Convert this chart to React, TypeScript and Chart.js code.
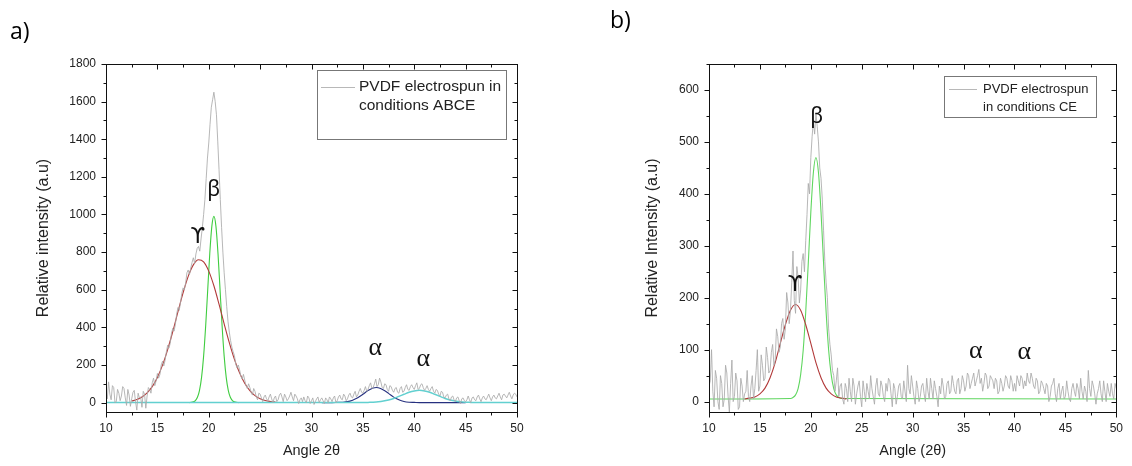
import React, { useEffect, useRef } from "react";
import { Chart, registerables } from "chart.js";
Chart.register(...registerables);

const FONT = "'Liberation Sans', Arial, sans-serif";
Chart.defaults.font.family = FONT;

// ---------- data ----------
const angles = [
  10, 10.25, 10.5, 10.75, 11, 11.25, 11.5, 11.75,
  12, 12.25, 12.5, 12.75, 13, 13.25, 13.5, 13.75,
  14, 14.25, 14.5, 14.75, 15, 15.25, 15.5, 15.75,
  16, 16.25, 16.5, 16.75, 17, 17.25, 17.5, 17.75,
  18, 18.25, 18.5, 18.75, 19, 19.25, 19.5, 19.75,
  20, 20.25, 20.5, 20.75, 21, 21.25, 21.5, 21.75,
  22, 22.25, 22.5, 22.75, 23, 23.25, 23.5, 23.75,
  24, 24.25, 24.5, 24.75, 25, 25.25, 25.5, 25.75,
  26, 26.25, 26.5, 26.75, 27, 27.25, 27.5, 27.75,
  28, 28.25, 28.5, 28.75, 29, 29.25, 29.5, 29.75,
  30, 30.25, 30.5, 30.75, 31, 31.25, 31.5, 31.75,
  32, 32.25, 32.5, 32.75, 33, 33.25, 33.5, 33.75,
  34, 34.25, 34.5, 34.75, 35, 35.25, 35.5, 35.75,
  36, 36.25, 36.5, 36.75, 37, 37.25, 37.5, 37.75,
  38, 38.25, 38.5, 38.75, 39, 39.25, 39.5, 39.75,
  40, 40.25, 40.5, 40.75, 41, 41.25, 41.5, 41.75,
  42, 42.25, 42.5, 42.75, 43, 43.25, 43.5, 43.75,
  44, 44.25, 44.5, 44.75, 45, 45.25, 45.5, 45.75,
  46, 46.25, 46.5, 46.75, 47, 47.25, 47.5, 47.75,
  48, 48.25, 48.5, 48.75, 49, 49.25, 49.5, 49.75,
  50,
];

// a) PVDF electrospun in conditions ABCE, raw pattern on the quarter-degree grid
const rawA = [
  60, 110, 15, 80, 5, 50, 35, 75,
  -15, 40, 20, 65, -40, 25, -25, 45,
  35, 70, 105, 90, 155, 150, 220, 225,
  305, 315, 395, 415, 505, 530, 610, 635,
  705, 715, 770, 790, 830, 870, 1000, 1190,
  1380, 1570, 1650, 1530, 1240, 930, 690, 510,
  375, 295, 250, 185, 175, 125, 120, 75,
  80, 40, 60, 15, 45, 5, 40, 10,
  45, 0, 35, 15, 50, 5, 30, 20,
  55, 10, 35, -5, 25, 30, 0, 25,
  10, -10, 20, 0, 25, -5, 15, 30,
  5, 35, 10, 40, 15, 35, 20, 50,
  25, 60, 40, 75, 50, 85, 70, 105,
  80, 125, 95, 110, 75, 95, 60, 85,
  55, 80, 50, 85, 60, 95, 65, 95,
  70, 105, 75, 100, 65, 90, 60, 85,
  50, 65, 35, 55, 25, 45, 10, 35,
  5, 30, -5, 25, 5, 35, 0, 30,
  10, 40, 5, 35, 15, 45, 10, 40,
  20, 50, 15, 45, 25, 55, 20, 50,
  30,
];
// a) readings half-way between the grid angles
const rawAMid = [
  20, 45, 90, 0, 70, 10, 85, 25,
  70, -20, 55, 5, 50, 30, 60, -30,
  80, 50, 130, 115, 130, 200, 195, 270,
  290, 370, 380, 470, 490, 580, 600, 690,
  680, 745, 740, 820, 805, 930, 1080, 1300,
  1480, 1610, 1600, 1390, 1080, 800, 600, 430,
  330, 270, 205, 200, 140, 150, 90, 100,
  55, 75, 30, 50, 25, 30, 20, 30,
  20, 25, 5, 40, 30, 45, 10, 35,
  30, 45, 20, 15, 5, 10, 35, -5,
  25, 5, 30, 15, 10, 25, 0, 20,
  25, 0, 30, 20, 45, 10, 40, 30,
  45, 30, 60, 55, 65, 60, 90, 75,
  100, 85, 130, 80, 100, 70, 90, 65,
  75, 55, 75, 55, 80, 70, 85, 80,
  90, 70, 95, 80, 75, 70, 75, 60,
  70, 45, 60, 30, 40, 20, 30, 15,
  25, 10, 20, 10, 15, 15, 25, 15,
  30, 20, 25, 20, 30, 25, 30, 25,
  35, 30, 40, 35, 40, 35, 40, 45,
];

// b) PVDF electrospun in conditions CE, raw pattern on the quarter-degree grid
const rawB = [
  30, 100, -10, 45, -15, 35, 5, 55,
  -20, 80, 10, 40, -10, 30, 15, 60,
  0, 50, 25, 100, 30, 70, 45, 85,
  60, 110, 80, 125, 105, 160, 140, 190,
  175, 290, 170, 240, 215, 285, 310, 420,
  470, 540, 555, 500, 430, 330, 230, 140,
  90, 50, 40, 10, 35, -5, 25, 45,
  0, 30, 15, 40, -10, 20, 35, 5,
  25, -5, 45, 10, 30, 0, 20, 40,
  -10, 25, 10, 35, 5, 20, 70, 15,
  30, -5, 25, 10, 35, 0, 20, 45,
  5, 25, -10, 15, 30, 10, 40, 20,
  35, 15, 45, 25, 40, 30, 50, 35,
  55, 40, 62, 45, 35, 50, 30, 45,
  25, 40, 20, 35, 30, 45, 25, 40,
  35, 50, 30, 45, 40, 55, 35, 45,
  25, 40, 20, 35, 15, 30, 10, 35,
  15, 25, 5, 30, 10, 20, 0, 35,
  10, 25, 45, 5, 20, 60, 10, 30,
  -5, 25, 15, 40, 0, 20, 35, 5,
  25,
];
// b) readings half-way between the grid angles
const rawBMid = [
  40, 20, 60, 0, 50, -10, 70, 10,
  35, 0, 55, -15, 45, 0, 20, 10,
  30, 5, 60, 20, 90, 40, 105, 55,
  95, 70, 140, 95, 150, 120, 210, 150,
  230, 195, 260, 190, 270, 250, 360, 400,
  510, 515, 530, 450, 390, 270, 200, 110,
  60, 20, 65, 30, 5, 35, 0, 20,
  45, -5, 30, 10, 40, 0, 20, 50,
  10, 30, 15, 40, 10, 35, 45, 15,
  35, -5, 30, 10, 40, 0, 25, 50,
  10, 40, 0, 30, 15, 45, 5, 25,
  40, 10, 30, 45, 5, 35, 15, 50,
  20, 40, 15, 50, 20, 55, 25, 45,
  30, 50, 35, 20, 55, 25, 50, 40,
  45, 15, 45, 20, 50, 30, 50, 20,
  20, 40, 50, 25, 30, 40, 55, 30,
  45, 15, 40, 25, 35, 0, 30, 45,
  0, 35, 20, 5, 40, 5, 25, 20,
  35, 5, 20, 30, 0, 25, 40, 15,
  15, 40, 0, 20, 35, 10, 15, 35,
];

// a) fitted peaks
const gammaAx = [12.5, 13, 13.5, 14, 14.5, 15, 15.5, 16, 16.5, 17, 17.5, 18, 18.5, 19, 19.5, 20, 20.5, 21, 21.5, 22, 22.5, 23, 23.5, 24, 24.5, 25, 25.5, 26, 26.5];
const gammaAy = [8, 16, 30, 52, 85, 134, 199, 282, 378, 482, 583, 671, 732, 759, 748, 699, 621, 523, 419, 319, 230, 158, 103, 64, 37, 21, 11, 6, 3];

const betaAx = [18.1, 18.3, 18.5, 18.7, 18.9, 19.1, 19.3, 19.5, 19.7, 19.9, 20.1, 20.3, 20.5, 20.7, 20.9, 21.1, 21.3, 21.5, 21.7, 21.9, 22.1, 22.3, 22.5, 22.7, 22.9];
const betaAy = [0, 1, 4, 11, 28, 65, 134, 247, 407, 600, 793, 937, 990, 937, 793, 600, 407, 247, 134, 65, 28, 11, 4, 1, 0];

const alpha1Ax = [31, 31.5, 32, 32.5, 33, 33.5, 34, 34.5, 35, 35.5, 36, 36.3, 36.5, 37, 37.5, 38, 38.5, 39, 39.5, 40, 40.5, 41, 41.5, 42, 42.5, 43, 43.5, 44, 44.5, 45];
const alpha1Ay = [0, 0, 0, 1, 2, 5, 13, 26, 44, 64, 78, 80, 79, 67, 49, 29, 15, 6, 2, 1, 0, 0, 0, 0, 0, 0, 0, 0, 0, 0];

const alpha2Ax = [10, 35, 35.5, 36, 36.5, 37, 37.5, 38, 38.5, 39, 39.5, 40, 40.5, 41, 41.5, 42, 42.5, 43, 43.5, 44, 44.5, 45, 45.5, 46, 50];
const alpha2Ay = [0, 0, 1, 2, 4, 8, 14, 22, 33, 44, 55, 62, 65, 62, 55, 44, 33, 22, 14, 8, 4, 2, 1, 0, 0];

// b) fitted peaks
const gammaBx = [13.5, 14, 14.5, 15, 15.5, 16, 16.5, 17, 17.5, 18, 18.5, 19, 19.5, 20, 20.5, 21, 21.5, 22, 22.5, 23, 23.5];
const gammaBy = [5, 7, 9, 15, 26, 46, 75, 112, 148, 176, 187, 176, 148, 112, 75, 46, 26, 15, 9, 7, 5];

const betaBx = [10, 18, 18.25, 18.5, 18.75, 19, 19.25, 19.5, 19.75, 20, 20.25, 20.5, 20.75, 21, 21.25, 21.5, 21.75, 22, 22.25, 22.5, 22.75, 23, 50];
const betaBy = [5, 6, 8, 13, 25, 52, 99, 173, 267, 365, 441, 470, 441, 365, 267, 173, 99, 52, 25, 13, 8, 6, 5];

// axes
const xTickValues = [10, 15, 20, 25, 30, 35, 40, 45, 50];
const yTickValuesA = [0, 200, 400, 600, 800, 1000, 1200, 1400, 1600, 1800];
const yTickValuesB = [0, 100, 200, 300, 400, 500, 600];

const legendA = ["PVDF electrospun in", "conditions ABCE"];
const legendB = ["PVDF electrospun", "in conditions CE"];

// peak annotations (angle, intensity)
const peaksA = [
  { text: "ϒ", x: 18.93, y: 876 },
  { text: "β", x: 20.49, y: 1132 },
  { text: "α", x: 36.2, y: 288 },
  { text: "α", x: 40.87, y: 230 },
];
const peaksB = [
  { text: "ϒ", x: 18.45, y: 224 },
  { text: "β", x: 20.58, y: 548 },
  { text: "α", x: 36.2, y: 97 },
  { text: "α", x: 40.97, y: 95 },
];

// ---------- helpers ----------
const pts = (xs: number[], ys: number[]) => xs.map((x, i) => ({ x, y: ys[i] }));
const rawPts = (grid: number[], main: number[], mid: number[]) => {
  const out: { x: number; y: number }[] = [];
  for (let i = 0; i < grid.length; i++) {
    out.push({ x: grid[i], y: main[i] });
    if (i < mid.length) out.push({ x: (grid[i] + grid[i + 1]) / 2, y: mid[i] });
  }
  return out;
};
const isMult = (v: number, m: number) => Math.abs(v / m - Math.round(v / m)) < 1e-6;

const decor = {
  id: "decor",
  afterDraw(chart: any, _args: any, o: any) {
    const { ctx, chartArea: a } = chart;
    const xs = chart.scales.x;
    const ys = chart.scales.y;
    ctx.save();
    const L = Math.round(a.left) + 0.5;
    const R = Math.round(a.right) + 0.5;
    const T = Math.round(a.top) + 0.5;
    const B = Math.round(a.bottom) + 0.5;
    ctx.strokeStyle = "#111";
    ctx.lineWidth = 1;
    ctx.strokeRect(L, T, R - L, B - T);
    ctx.beginPath();
    for (let v = xs.min; v <= xs.max + 1e-6; v += o.xMinor) {
      const p = Math.round(xs.getPixelForValue(v)) + 0.5;
      const len = isMult(v, o.xMajor) ? 5 : 3;
      ctx.moveTo(p, B);
      ctx.lineTo(p, B + len);
      ctx.moveTo(p, T);
      ctx.lineTo(p, T + len);
    }
    for (let v = 0; v <= ys.max + 1e-6; v += o.yMinor) {
      const p = Math.round(ys.getPixelForValue(v)) + 0.5;
      const len = isMult(v, o.yMajor) ? 5 : 3;
      ctx.moveTo(L, p);
      ctx.lineTo(L - len, p);
      ctx.moveTo(R, p);
      ctx.lineTo(R - len, p);
    }
    ctx.stroke();

    // legend box
    const lg = o.legend;
    ctx.fillStyle = "#fff";
    ctx.fillRect(lg.left, lg.top, lg.right - lg.left, lg.bottom - lg.top);
    ctx.strokeStyle = "#777";
    ctx.strokeRect(lg.left + 0.5, lg.top + 0.5, lg.right - lg.left, lg.bottom - lg.top);
    ctx.strokeStyle = "#b8b8b8";
    ctx.beginPath();
    ctx.moveTo(lg.lineX0, lg.lineY + 0.5);
    ctx.lineTo(lg.lineX1, lg.lineY + 0.5);
    ctx.stroke();
    ctx.fillStyle = "#222";
    ctx.font = `${lg.fontSize}px ${FONT}`;
    ctx.textAlign = "left";
    ctx.textBaseline = "middle";
    lg.lines.forEach((t: string, i: number) => {
      ctx.fillText(t, lg.textX, lg.lineY + i * lg.lineGap);
    });

    // peak labels
    ctx.fillStyle = "#111";
    ctx.textAlign = "center";
    ctx.textBaseline = "middle";
    o.peaks.forEach((pk: any) => {
      if (pk.text === "α") ctx.font = "26px 'Liberation Serif', serif";
      else if (pk.text === "ϒ") ctx.font = "21px 'DejaVu Sans', sans-serif";
      else ctx.font = "21px 'Noto Sans', sans-serif";
      ctx.fillText(pk.text, xs.getPixelForValue(pk.x), ys.getPixelForValue(pk.y));
    });
    ctx.restore();
  },
};

function makeConfig(opts: any): any {
  return {
    type: "line",
    data: { datasets: opts.datasets },
    options: {
      animation: false,
      responsive: false,
      layout: { padding: { left: 0, right: opts.padRight, top: 64, bottom: 0 } },
      plugins: {
        legend: { display: false },
        tooltip: { enabled: false },
        decor: opts.decor,
      },
      elements: { point: { radius: 0 } },
      scales: {
        x: {
          type: "linear",
          min: 10,
          max: 50,
          afterBuildTicks: (s: any) => {
            s.ticks = xTickValues.map((v) => ({ value: v }));
          },
          afterFit: (s: any) => {
            s.height = 54;
          },
          grid: { display: false, drawTicks: false },
          border: { display: false },
          ticks: {
            padding: 9,
            color: "#222",
            font: { size: 12 },
            maxRotation: 0,
            autoSkip: false,
            callback: (v: any) => String(v),
          },
          title: {
            display: true,
            text: opts.xTitle,
            color: "#222",
            font: { size: 14.5 },
            padding: { top: 0, bottom: 6 },
          },
        },
        y: {
          type: "linear",
          min: opts.yMin,
          max: opts.yMax,
          afterBuildTicks: (s: any) => {
            s.ticks = opts.yTicks.map((v: number) => ({ value: v }));
          },
          afterFit: (s: any) => {
            s.width = opts.yWidth;
          },
          grid: { display: false, drawTicks: false },
          border: { display: false },
          ticks: {
            padding: 10,
            color: "#222",
            font: { size: 12 },
            autoSkip: false,
            callback: (v: any) => String(v),
          },
          title: {
            display: true,
            text: opts.yTitle,
            color: "#222",
            font: { size: 16 },
            padding: { top: opts.yTitlePad, bottom: 0 },
          },
        },
      },
    },
    plugins: [decor],
  };
}

const lineDs = (data: any[], color: string, width: number, smooth: boolean) => ({
  data,
  borderColor: color,
  borderWidth: width,
  pointRadius: 0,
  fill: false,
  tension: smooth ? 0.4 : 0,
  cubicInterpolationMode: smooth ? "monotone" : "default",
});

function ChartCanvas({ config, width, height, left }: any) {
  const ref = useRef<HTMLCanvasElement | null>(null);
  useEffect(() => {
    if (!ref.current) return;
    const c = new Chart(ref.current, config);
    return () => c.destroy();
  }, []);
  return (
    <canvas
      ref={ref}
      width={width}
      height={height}
      style={{ position: "absolute", left, top: 0, width, height, display: "block" }}
    />
  );
}

export default function App() {
  const configA = makeConfig({
    datasets: [
      lineDs(rawPts(angles, rawA, rawAMid), "rgba(170,170,170,0.85)", 1, false),
      lineDs(pts(alpha2Ax, alpha2Ay), "#62d0d0", 1.5, true),
      lineDs(pts(gammaAx, gammaAy), "#b23a3a", 1.1, true),
      lineDs(pts(betaAx, betaAy), "#3fcc3f", 1.1, true),
      lineDs(pts(alpha1Ax, alpha1Ay), "#26307f", 1.1, true),
    ],
    padRight: 43,
    yMin: -50,
    yMax: 1800,
    yTicks: yTickValuesA,
    yWidth: 106,
    yTitle: "Relative intensity (a.u)",
    yTitlePad: 34,
    xTitle: "Angle 2θ",
    decor: {
      xMinor: 2.5,
      xMajor: 5,
      yMinor: 100,
      yMajor: 200,
      peaks: peaksA,
      legend: {
        left: 317,
        top: 70,
        right: 506,
        bottom: 139,
        lineX0: 321,
        lineX1: 355,
        lineY: 87,
        textX: 359,
        lineGap: 19,
        fontSize: 15.5,
        lines: legendA,
      },
    },
  });

  const configB = makeConfig({
    datasets: [
      lineDs(rawPts(angles, rawB, rawBMid), "rgba(170,170,170,0.85)", 1, false),
      lineDs(pts(gammaBx, gammaBy), "#b23a3a", 1.1, true),
      lineDs(pts(betaBx, betaBy), "#5fd65f", 1.1, true),
    ],
    padRight: 12,
    yMin: -20,
    yMax: 650,
    yTicks: yTickValuesB,
    yWidth: 149,
    yTitle: "Relative Intensity (a.u)",
    yTitlePad: 83,
    xTitle: "Angle (2θ)",
    decor: {
      xMinor: 2.5,
      xMajor: 5,
      yMinor: 50,
      yMajor: 100,
      peaks: peaksB,
      legend: {
        left: 384,
        top: 76,
        right: 536,
        bottom: 117,
        lineX0: 389,
        lineX1: 417,
        lineY: 89,
        textX: 423,
        lineGap: 18,
        fontSize: 13,
        lines: legendB,
      },
    },
  });

  const labelStyle: React.CSSProperties = {
    position: "absolute",
    fontFamily: "'Open Sans', 'Noto Sans', sans-serif",
    fontSize: 23,
    lineHeight: "26px",
    color: "#000",
  };

  return (
    <div style={{ position: "absolute", left: 0, top: 0, width: 1132, height: 466, background: "#fff", overflow: "hidden" }}>
      <ChartCanvas config={configA} width={560} height={466} left={0} />
      <ChartCanvas config={configB} width={572} height={466} left={560} />
      <div style={{ ...labelStyle, left: 10, top: 17 }}>a)</div>
      <div style={{ ...labelStyle, left: 610, top: 6 }}>b)</div>
    </div>
  );
}
